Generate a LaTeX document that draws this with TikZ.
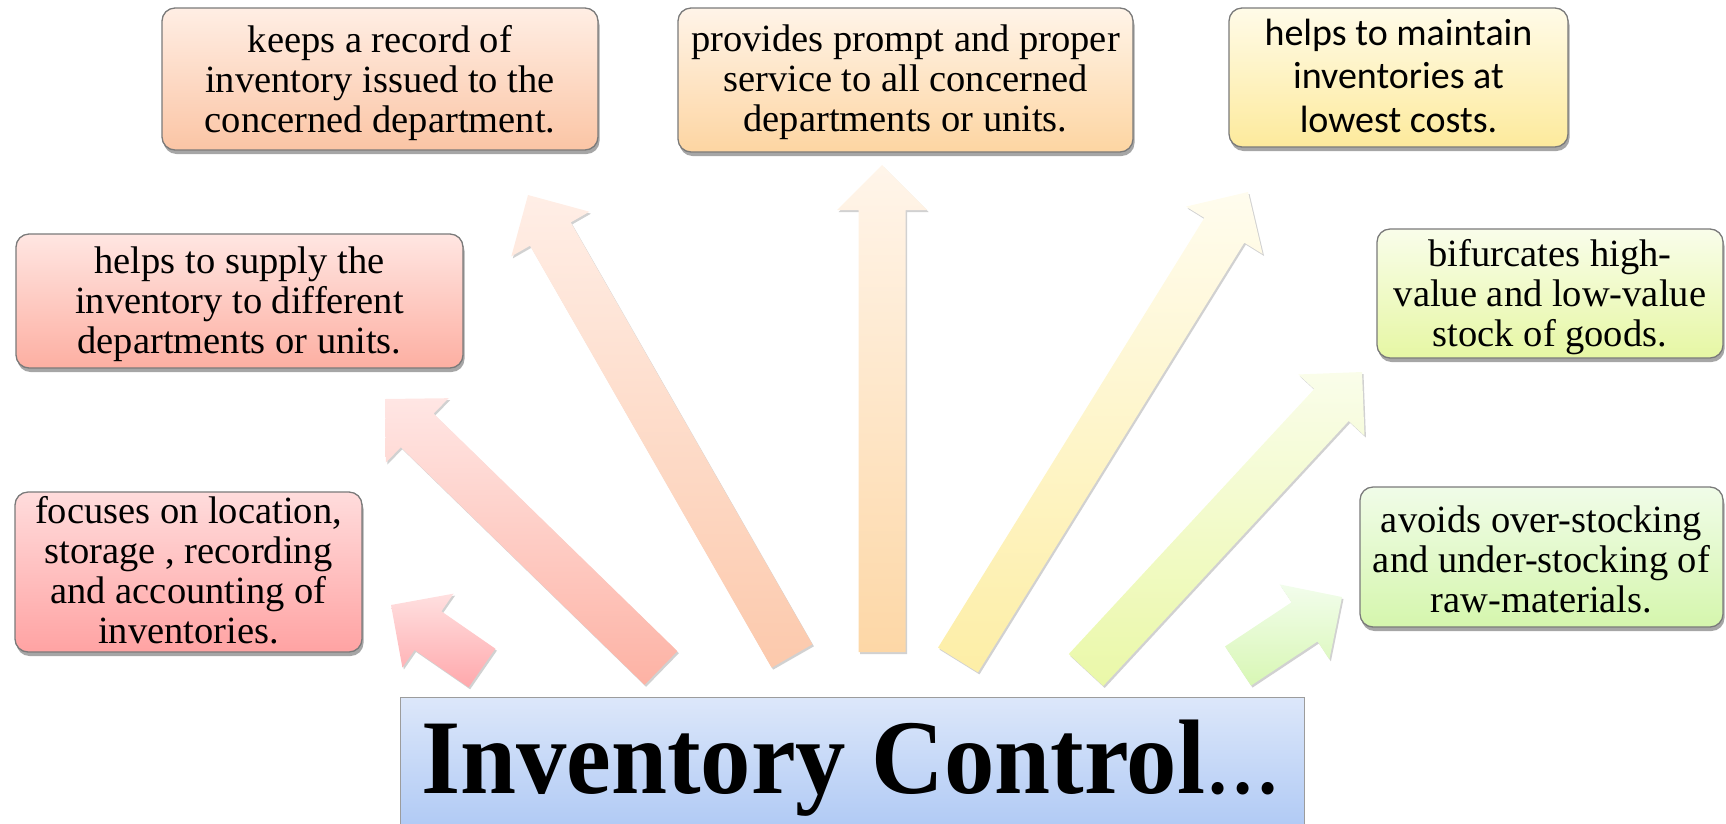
\documentclass[tikz,border=0pt]{standalone}
\usepackage{fontspec}
\usepackage{graphicx}
\setmainfont{Liberation Serif}
\newfontfamily\calib{Carlito}
\usetikzlibrary{calc,shadows}

\definecolor{boxgray}{HTML}{7A7A7A}
\definecolor{titlegray}{HTML}{9C9C9C}
% box colours (top / bottom)
\definecolor{aT}{HTML}{FFDCDC}\definecolor{aB}{HTML}{FFA3A3}
\definecolor{bT}{HTML}{FFE6E2}\definecolor{bB}{HTML}{FDAFA2}
\definecolor{cT}{HTML}{FFEEE4}\definecolor{cB}{HTML}{FBC5A5}
\definecolor{dT}{HTML}{FFF4E8}\definecolor{dB}{HTML}{FDD5A2}
\definecolor{eT}{HTML}{FFFBE8}\definecolor{eB}{HTML}{FDEA9C}
\definecolor{fT}{HTML}{F9FDEA}\definecolor{fB}{HTML}{E6F7A4}
\definecolor{gT}{HTML}{F0FCE8}\definecolor{gB}{HTML}{D5F6AD}
\definecolor{tT}{HTML}{DCE7FA}\definecolor{tB}{HTML}{A3C1F3}
% arrow colours (tip / tail)
\definecolor{a1T}{HTML}{FFE0E0}\definecolor{a1B}{HTML}{FFA8AC}
\definecolor{a2T}{HTML}{FFE6E4}\definecolor{a2B}{HTML}{FDB2A4}
\definecolor{a3T}{HTML}{FFEEE6}\definecolor{a3B}{HTML}{FCC9AC}
\definecolor{a4T}{HTML}{FFF5EA}\definecolor{a4B}{HTML}{FDD7A6}
\definecolor{a5T}{HTML}{FFFCEE}\definecolor{a5B}{HTML}{FDEEA6}
\definecolor{a6T}{HTML}{FAFDEA}\definecolor{a6B}{HTML}{EAF8A8}
\definecolor{a7T}{HTML}{F2FDEC}\definecolor{a7B}{HTML}{D8F7B4}

\tikzset{
  infobox/.style={draw=boxgray, line width=1.3pt, rounded corners=13pt,
    inner sep=0pt,
    drop shadow={shadow xshift=1.5pt, shadow yshift=-4pt, opacity=0.35, fill=black}},
  infotext/.style={align=center, inner sep=0pt,
    font=\fontsize{38.5}{40}\selectfont},
  calibtext/.style={align=center, inner sep=0pt,
    font=\calib\fontsize{38}{43.5}\selectfont},
  blockarr/.style={draw=none,
    drop shadow={shadow xshift=1.5pt, shadow yshift=-2pt, opacity=0.18, fill=black}},
  titlebox/.style={draw=titlegray, line width=1.3pt, inner sep=0pt,
    top color=tT, bottom color=tB}
}

% #1 tail coordinate, #2 tip coordinate, #3 top colour, #4 bottom colour
\newcommand\blockarrow[4]{%
  \coordinate (hb) at ($(#2)!45pt!(#1)$);
  \path[blockarr, top color=#3, bottom color=#4]
    ($(#1)!23.5pt!90:(#2)$) -- ($(hb)!23.5pt!90:(#2)$) --
    ($(hb)!45pt!90:(#2)$) -- (#2) -- ($(hb)!45pt!-90:(#2)$) --
    ($(hb)!23.5pt!-90:(#2)$) -- ($(#1)!23.5pt!-90:(#2)$) -- cycle;
}

\begin{document}
\begin{tikzpicture}[x=1pt, y=-1pt]
\useasboundingbox (0,0) rectangle (1726,823);
\clip (0,0) rectangle (1726,823);

% arrow end points
\coordinate (tail1) at (482,668); \coordinate (tip1) at (391,605);
\coordinate (tail2) at (661,668); \coordinate (tip2) at (385,399);
\coordinate (tail3) at (792,656); \coordinate (tip3) at (528,195);
\coordinate (tail4) at (882,652); \coordinate (tip4) at (882,165);
\coordinate (tail5) at (958,660); \coordinate (tip5) at (1248,192);
\coordinate (tail6) at (1086,670); \coordinate (tip6) at (1362,372);
\coordinate (tail7) at (1238,666); \coordinate (tip7) at (1342,597);

\blockarrow{tail1}{tip1}{a1T}{a1B}
\blockarrow{tail2}{tip2}{a2T}{a2B}
\blockarrow{tail3}{tip3}{a3T}{a3B}
\blockarrow{tail4}{tip4}{a4T}{a4B}
\blockarrow{tail5}{tip5}{a5T}{a5B}
\blockarrow{tail6}{tip6}{a6T}{a6B}
\blockarrow{tail7}{tip7}{a7T}{a7B}

% boxes
\node[infobox, top color=aT, bottom color=aB, minimum width=347pt, minimum height=160pt] (focus) at (188.5,572) {};
\node[infotext] at (188.5,570) {focuses on location,\\storage , recording\\and accounting of\\inventories.};

\node[infobox, top color=bT, bottom color=bB, minimum width=447pt, minimum height=134pt] (supply) at (239.5,301) {};
\node[infotext] at (239.5,304) {helps to supply the\\inventory to different\\departments or units.};

\node[infobox, top color=cT, bottom color=cB, minimum width=436pt, minimum height=142pt] (record) at (380,79) {};
\node[infotext] at (380,83) {keeps a record of\\inventory issued to the\\concerned department.};

\node[infobox, top color=dT, bottom color=dB, minimum width=455pt, minimum height=144pt] (service) at (905.5,80) {};
\node[infotext] at (905.5,82) {provides prompt and proper\\service to all concerned\\departments or units.};

\node[infobox, top color=eT, bottom color=eB, minimum width=339pt, minimum height=139pt] (maintain) at (1398.5,77.5) {};
\node[calibtext] at (1398.5,75.5) {helps to maintain\\inventories at\\lowest costs.};

\node[infobox, top color=fT, bottom color=fB, minimum width=346pt, minimum height=129pt] (bifurc) at (1550,293.5) {};
\node[infotext] at (1550,297) {bifurcates high-\\value and low-value\\stock of goods.};

\node[infobox, top color=gT, bottom color=gB, minimum width=363pt, minimum height=140pt] (avoid) at (1541.5,557) {};
\node[infotext] at (1541.5,559) {avoids over-stocking\\and under-stocking of\\raw-materials.};

% title
\node[titlebox, anchor=north west, minimum width=904pt, minimum height=170pt] (title) at (400,697) {};
\node[anchor=base, inner sep=0pt] (titletext) at (851,793)
  {\scalebox{0.95}[1]{\fontsize{106}{110}\selectfont\bfseries Inventory Control\mdseries...}};
\end{tikzpicture}
\end{document}
